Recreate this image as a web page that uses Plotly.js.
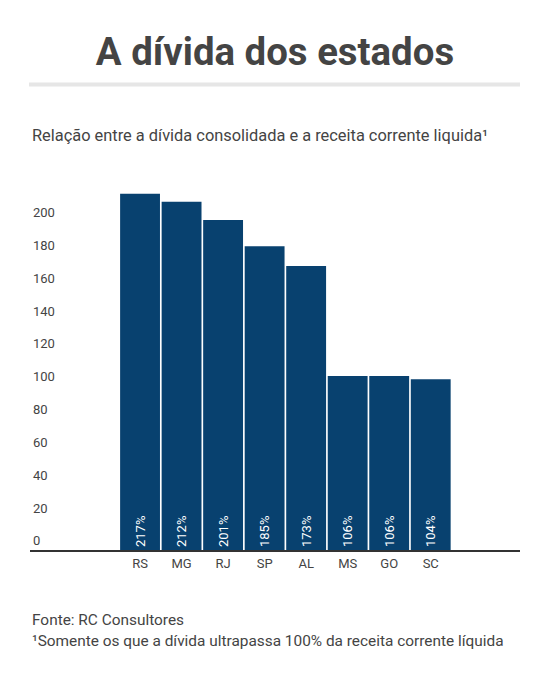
<!DOCTYPE html>
<html>
<head>
<meta charset="utf-8">
<script src="https://cdn.plot.ly/plotly-3.0.1.min.js"></script>
<style>
html,body{margin:0;padding:0;background:#fff;}
#chart{width:550px;height:683px;}
</style>
</head>
<body>
<div id="chart"></div>
<script>
var states = ["RS", "MG", "RJ", "SP", "AL", "MS", "GO", "SC"];
var ratios = [217, 212, 201, 185, 173, 106, 106, 104];
var ratioLabels = ["217%", "212%", "201%", "185%", "173%", "106%", "106%", "104%"];
var yTicks = [0, 20, 40, 60, 80, 100, 120, 140, 160, 180, 200];

var trace = {
  type: "bar",
  x: states,
  y: ratios,
  text: ratioLabels,
  textposition: "inside",
  insidetextanchor: "start",
  textangle: -90,
  textfont: {family: "Roboto, sans-serif", size: 13, color: "#ffffff"},
  marker: {color: "#08416f", line: {width: 0}},
  hoverinfo: "none",
  cliponaxis: false
};

var layout = {
  width: 550,
  height: 683,
  margin: {l: 30, r: 30, t: 180, b: 133},
  paper_bgcolor: "#ffffff",
  plot_bgcolor: "#ffffff",
  showlegend: false,
  bargap: 0.04,
  font: {family: "Roboto, sans-serif", color: "#444444"},
  title: {
    text: "<b>A dívida dos estados</b>",
    font: {family: "Roboto, sans-serif", size: 38.4, color: "#444444"},
    x: 0.5, xref: "container", xanchor: "center",
    y: 1 - 52/683, yref: "container", yanchor: "middle"
  },
  xaxis: {
    type: "category",
    range: [-2.65, 9.15],
    showline: true,
    linecolor: "#333333",
    linewidth: 2,
    showgrid: false,
    zeroline: false,
    ticks: "",
    tickfont: {family: "Roboto, sans-serif", size: 13, color: "#444444"},
    fixedrange: true
  },
  yaxis: {
    range: [0, 225.3],
    tickvals: yTicks,
    ticktext: yTicks.map(String),
    showgrid: false,
    zeroline: false,
    showline: false,
    ticks: "",
    ticklabelposition: "inside top",
    tickfont: {family: "Roboto, sans-serif", size: 13, color: "#444444"},
    fixedrange: true
  },
  shapes: [
    {type: "rect", xref: "paper", yref: "paper",
     x0: -0.002, x1: 1.0, y0: 1 + (180-86.5)/370, y1: 1 + (180-82.5)/370,
     fillcolor: "#e6e6e6", line: {width: 0}}
  ],
  annotations: [
    {text: "Relação entre a dívida consolidada e a receita corrente liquida¹",
     xref: "paper", yref: "paper", x: 0, y: 1 + (180-136)/370,
     xanchor: "left", yanchor: "middle", showarrow: false,
     font: {family: "Roboto, sans-serif", size: 16.4, color: "#444444"}},
    {text: "Fonte: RC Consultores",
     xref: "paper", yref: "paper", x: 0, y: -(620-550)/370,
     xanchor: "left", yanchor: "middle", showarrow: false,
     font: {family: "Roboto, sans-serif", size: 15.4, color: "#444444"}},
    {text: "¹Somente os que a dívida ultrapassa 100% da receita corrente líquida",
     xref: "paper", yref: "paper", x: 0, y: -(641-550)/370,
     xanchor: "left", yanchor: "middle", showarrow: false,
     font: {family: "Roboto, sans-serif", size: 15.4, color: "#444444"}}
  ]
};

Plotly.newPlot("chart", [trace], layout, {displayModeBar: false, staticPlot: true});
</script>
</body>
</html>
